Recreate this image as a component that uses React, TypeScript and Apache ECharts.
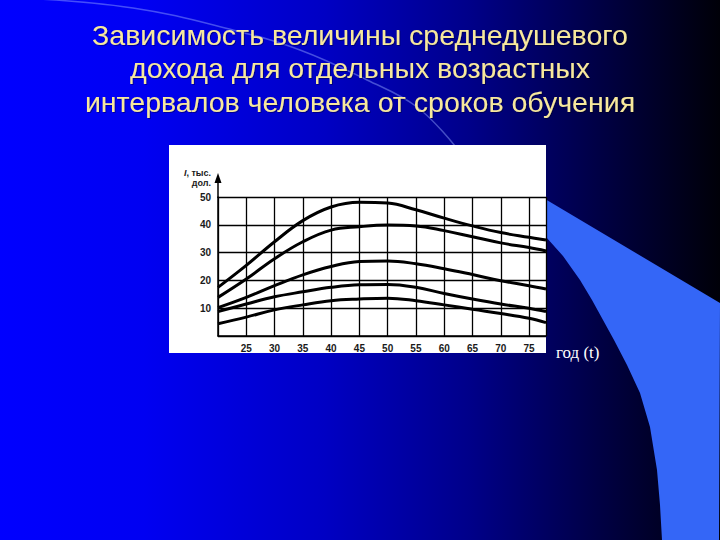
import React, { useEffect, useRef } from "react";
import * as echarts from "echarts";

const titleLines = [
  "Зависимость величины среднедушевого",
  "дохода для отдельных возрастных",
  "интервалов человека от сроков обучения",
];
const yAxisTitle = "{i|I}, тыс.\nдол.";
const xAxisTitle = "год (t)";

const years = [20, 25, 30, 35, 40, 45, 50, 55, 60, 65, 70, 75, 78];
const curve1 = [17.5, 25.4, 33.9, 41.5, 46.4, 48.1, 47.8, 45.4, 42.4, 39.6, 37.2, 35.5, 34.5];
const curve2 = [13.9, 20.5, 27.8, 33.9, 38.1, 39.3, 39.9, 39.6, 37.9, 35.7, 33.5, 31.8, 30.6];
const curve3 = [10.2, 13.9, 18.1, 22.0, 25.0, 26.8, 27.0, 26.0, 24.2, 22.1, 19.9, 18.1, 16.9];
const curve4 = [8.8, 11.5, 14.1, 15.9, 17.5, 18.4, 18.5, 17.5, 15.3, 13.3, 11.5, 10.0, 8.8];
const curve5 = [4.4, 6.8, 9.4, 11.2, 12.7, 13.3, 13.6, 12.7, 11.2, 9.6, 8.1, 6.4, 4.8];
const curves = [curve1, curve2, curve3, curve4, curve5];

const labelFont = "'Liberation Sans Narrow', 'Arial Narrow', 'Liberation Sans', Arial, sans-serif";

export default function App() {
  const ref = useRef<HTMLDivElement>(null);

  useEffect(() => {
    if (!ref.current) return;
    const chart = echarts.init(ref.current, null, { renderer: "svg" });

    const bandPoints = [
      [540, 196],
      [720, 303],
      [719, 540],
      [662, 540],
      [660, 505],
      [657, 470],
      [650, 427],
      [640, 393],
      [627, 365],
      [614, 340],
      [603, 320],
      [592, 300],
      [580, 280],
      [563, 256],
      [546, 237],
      [540, 231],
    ];

    chart.setOption({
      animation: false,
      title: {
        text: titleLines.join("\n"),
        left: "center",
        top: 18,
        padding: 0,
        textStyle: {
          color: "#f7e89c",
          fontSize: 28.5,
          fontWeight: "normal",
          fontFamily: "'Liberation Sans', Arial, sans-serif",
          lineHeight: 33.5,
          textShadowColor: "rgba(0,0,0,0.35)",
          textShadowBlur: 1,
          textShadowOffsetX: 1,
          textShadowOffsetY: 1,
        },
      },
      graphic: [
        {
          type: "rect",
          z: -20,
          shape: { x: 0, y: 0, width: 720, height: 540 },
          style: {
            fill: new echarts.graphic.LinearGradient(0, 0, 1, 0, [
              { offset: 0, color: "#0000ff" },
              { offset: 0.2, color: "#0000f2" },
              { offset: 0.45, color: "#0000c4" },
              { offset: 0.65, color: "#00008a" },
              { offset: 0.83, color: "#000045" },
              { offset: 1, color: "#000008" },
            ]),
          },
        },
        {
          type: "polyline",
          z: -18,
          shape: {
            points: [
              [20, -2],
              [133, 8],
              [233, 30],
              [300, 50],
              [367, 80],
              [417, 107],
              [455, 146],
            ],
            smooth: 0.4,
          },
          style: { stroke: "rgba(150,170,255,0.45)", lineWidth: 1.5, fill: null },
        },
        {
          type: "polygon",
          z: -17,
          shape: { points: bandPoints },
          style: { fill: "#3466f7" },
        },
        {
          type: "rect",
          z: -15,
          shape: { x: 169, y: 145, width: 377, height: 208 },
          style: { fill: "#ffffff" },
        },
        {
          type: "line",
          z: 10,
          shape: { x1: 218, y1: 198, x2: 218, y2: 180 },
          style: { stroke: "#000", lineWidth: 1.5 },
        },
        {
          type: "polygon",
          z: 10,
          shape: {
            points: [
              [214.5, 183],
              [218, 173],
              [221.5, 183],
            ],
          },
          style: { fill: "#000" },
        },
      ],
      grid: {
        left: 218,
        right: 174,
        top: 197,
        bottom: 204,
        containLabel: false,
      },
      xAxis: {
        type: "value",
        min: 20,
        max: 78,
        interval: 5,
        name: xAxisTitle,
        nameLocation: "end",
        nameGap: 10,
        nameTextStyle: {
          color: "#ffffff",
          fontSize: 17,
          fontFamily: "'Liberation Serif', 'Times New Roman', serif",
          verticalAlign: "top",
          lineHeight: 32,
        },
        axisLine: { show: true, onZero: false, lineStyle: { color: "#000", width: 1.5 } },
        axisTick: { show: false },
        axisLabel: {
          margin: 7,
          color: "#1a1a1a",
          fontSize: 10,
          fontWeight: "bold",
          fontFamily: labelFont,
          showMaxLabel: false,
          formatter: (v: number) => (v === 20 || v === 78 ? "" : String(v)),
        },
        splitLine: { show: true, lineStyle: { color: "#000", width: 1.3 } },
      },
      yAxis: {
        type: "value",
        min: 0,
        max: 50,
        interval: 10,
        name: yAxisTitle,
        nameLocation: "end",
        nameGap: 9,
        nameTextStyle: {
          color: "#1a1a1a",
          fontSize: 9,
          fontWeight: "bold",
          fontFamily: labelFont,
          align: "right",
          verticalAlign: "bottom",
          lineHeight: 10,
          padding: [0, 7, 0, 0],
          rich: {
            i: { fontStyle: "italic", fontSize: 9, fontWeight: "bold", fontFamily: labelFont, color: "#1a1a1a" },
          },
        },
        axisLine: { show: true, lineStyle: { color: "#000", width: 1.5 } },
        axisTick: { show: false },
        axisLabel: {
          margin: 7,
          color: "#1a1a1a",
          fontSize: 10,
          fontWeight: "bold",
          fontFamily: labelFont,
          formatter: (v: number) => (v === 0 ? "" : String(v)),
        },
        splitLine: { show: true, lineStyle: { color: "#000", width: 1.3 } },
      },
      series: curves.map((c, idx) => ({
        type: "line",
        name: "curve" + (idx + 1),
        data: years.map((y, i) => [y, c[i]]),
        smooth: 0.4,
        showSymbol: false,
        symbol: "none",
        lineStyle: { color: "#000", width: 3 },
        z: 5,
      })),
    });

    return () => chart.dispose();
  }, []);

  return (
    <div
      ref={ref}
      style={{ position: "absolute", left: 0, top: 0, width: 720, height: 540 }}
    />
  );
}
